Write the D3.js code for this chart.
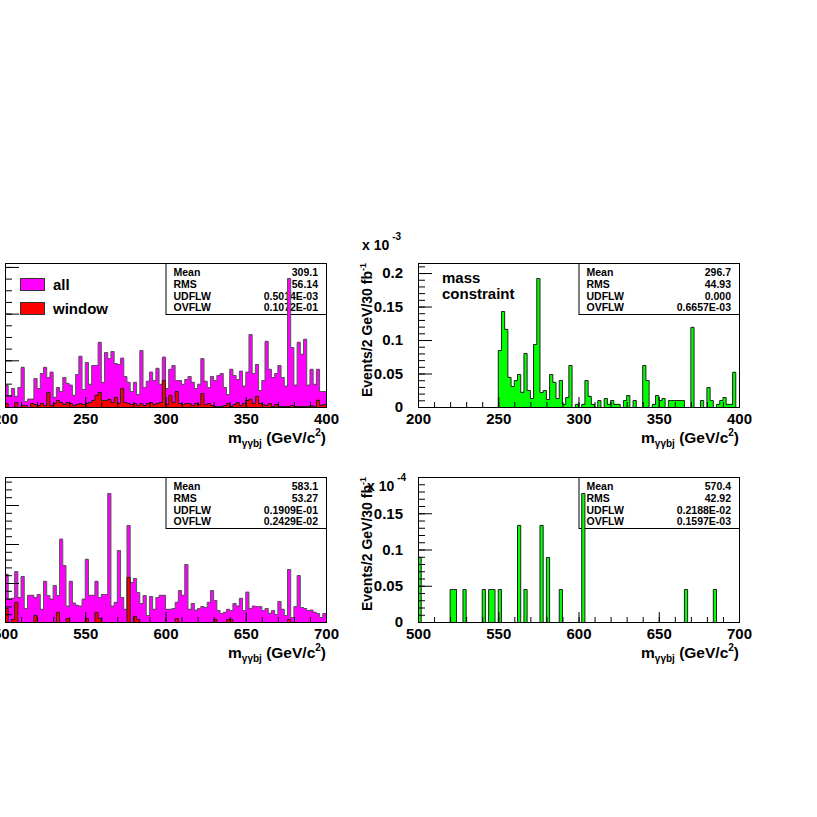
<!DOCTYPE html>
<html>
<head>
<meta charset="utf-8">
<script src="https://cdn.jsdelivr.net/npm/d3@7"></script>
<style>
  body { margin: 0; background: #fff; }
  svg { display: block; }
</style>
</head>
<body>
<svg id="chart" width="817" height="817"></svg>
<script>
// ---- data (2 GeV bins, 100 per histogram) ----
var nBins = 100;
var rangeTop = [200, 400];
var rangeBottom = [500, 700];
var xTicksTop = [200, 250, 300, 350, 400];
var xTicksBottom = [500, 550, 600, 650, 700];
var yTicksLeft = [0, 0.5, 1, 1.5];
var yTicksTopRight = [0, 0.05, 0.1, 0.15, 0.2];
var yTicksBottomRight = [0, 0.05, 0.1, 0.15];

// top left, "all" and "window" (units of the hidden left axis)
var allTop = [0.24,0.12,0.2,0.12,0.21,0.43,0.06,0.09,0.09,0.31,
  0.2,0.36,0.43,0.32,0.38,0.11,0.21,0.17,0.32,0.26,
  0.24,0.13,0.35,0.55,0.19,0.48,0.25,0.45,0.45,0.7,
  0.27,0.59,0.52,0.6,0.47,0.46,0.53,0.33,0.27,0.17,
  0.27,0.14,0.61,0.21,0.28,0.38,0.29,0.42,0.25,0.54,
  0.2,0.41,0.45,0.29,0.29,0.25,0.3,0.33,0.27,0.2,
  0.25,0.52,0.28,0.21,0.33,0.29,0.34,0.36,0.21,0.14,
  0.41,0.34,0.3,0.39,0.23,0.38,0.78,0.36,0.46,0.18,
  0.29,0.71,0.41,0.32,0.36,0.45,0.32,0.23,1.38,0.64,
  0.24,0.7,0.57,0.73,0.24,0.41,0.25,0.41,0.17,0.17];
var windowTop = [0.04,0,0,0.05,0,0.02,0.02,0,0.04,0.03,
  0.02,0.04,0.02,0.16,0.02,0.04,0.07,0.05,0.03,0.05,
  0.04,0.02,0.03,0.04,0.03,0.04,0.05,0.07,0.13,0.16,
  0.07,0.07,0.09,0.05,0.11,0.04,0.2,0.05,0.04,0.03,
  0.04,0.02,0.04,0.02,0.04,0.05,0.03,0.04,0.05,0.29,
  0.03,0.13,0.05,0.17,0.04,0.03,0.04,0.04,0.02,0.04,
  0.03,0.15,0.03,0.04,0.02,0.01,0.01,0.01,0.02,0.04,
  0.01,0.03,0.05,0.02,0.04,0.07,0.09,0.04,0.12,0.04,
  0.03,0.02,0.04,0.01,0.03,0.01,0.01,0.01,0.01,0.02,
  0.01,0.01,0.01,0.01,0.01,0.02,0.01,0.08,0.02,0.03];

// bottom left, "all" and "window"
var allBottom = [0.62,0.3,0.31,0.65,0.32,0.59,0.18,0.35,0.35,0.32,
  0.36,0.17,0.53,0.34,0.3,0.47,0.34,1.07,0.73,0.21,
  0.53,0.25,0.22,0.21,0.3,0.81,0.35,0.35,0.53,0.32,
  0.36,0.36,1.65,0.21,0.26,0.92,0.32,0.17,1.24,0.51,
  0.56,0.38,0.24,0.34,0.09,0.33,0.17,0.32,0.35,0.35,
  0.17,0.17,0.18,0.26,0.41,0.35,0.74,0.17,0.24,0.16,
  0.18,0.2,0.19,0.26,0.41,0.28,0.15,0.11,0.13,0.17,
  0.15,0.24,0.21,0.31,0.15,0.39,0.18,0.21,0.2,0.2,
  0.15,0.18,0.12,0.15,0.1,0.27,0.17,0.09,0.68,0.06,
  0.2,0.6,0.19,0.18,0.15,0.16,0.13,0.11,0.06,0.11];
var windowBottom = [0.18,0,0.04,0.26,0,0,0,0,0,0.09,
  0,0,0,0,0,0,0.13,0,0,0.05,
  0,0,0,0,0,0.05,0,0,0.13,0.05,
  0,0,0,0,0,0,0,0,0.58,0,
  0.08,0.04,0,0,0,0,0,0,0,0,
  0,0,0,0.05,0,0,0,0,0,0,
  0,0,0,0,0,0.04,0,0,0,0.04,
  0.04,0,0,0,0,0,0,0,0,0,
  0,0,0,0,0,0,0,0,0.04,0,
  0,0,0,0,0,0,0,0,0,0];

// right column, with mass constraint (x 10^-3 top, x 10^-4 bottom)
var constrTop = [0,0,0,0,0,0,0,0,0,0,
  0,0,0,0,0,0,0,0,0,0,
  0,0,0,0,0,0.085,0.143,0.117,0.045,0.031,
  0.04,0.049,0.023,0.08,0.025,0.013,0.094,0.192,0.022,0.025,
  0.012,0.049,0.038,0.013,0.04,0.005,0.015,0.062,0,0.005,
  0,0.005,0.04,0.017,0.005,0,0.01,0,0.013,0.005,
  0.01,0.005,0.005,0,0.01,0.018,0,0.01,0,0,
  0.062,0.04,0,0.005,0.018,0.01,0.013,0,0.01,0.01,
  0.01,0.01,0.01,0,0,0.12,0,0,0.01,0,
  0.03,0.01,0,0.005,0.01,0.015,0.005,0.005,0.053,0];
var constrBottom = [0.089,0,0,0,0,0,0,0,0,0,
  0.045,0.045,0,0,0.045,0,0,0,0,0,
  0.045,0,0.045,0.045,0,0.045,0,0,0,0,
  0,0.134,0,0.045,0,0,0,0,0.134,0,
  0.089,0,0,0,0.045,0,0,0,0,0,
  0,0.178,0,0,0,0,0,0,0,0,
  0,0,0,0,0,0,0,0,0,0,
  0,0,0,0,0,0,0,0,0,0,
  0,0,0,0.045,0,0,0,0,0,0,
  0,0,0.045,0,0,0,0,0,0,0];

var statNames = ["Mean", "RMS", "UDFLW", "OVFLW"];
var statsTopLeft = ["309.1", "56.14", "0.5014E-03", "0.1072E-01"];
var statsTopRight = ["296.7", "44.93", "0.000", "0.6657E-03"];
var statsBottomLeft = ["583.1", "53.27", "0.1909E-01", "0.2429E-02"];
var statsBottomRight = ["570.4", "42.92", "0.2188E-02", "0.1597E-03"];
var legendLabels = ["all", "window"];
var noteLines = ["mass", "constraint"];

// ---- drawing ----
var FONT = "'Liberation Sans', Arial, Helvetica, sans-serif";
var MAGENTA = "#ff00ff", RED = "#ff0000", GREEN = "#00ff00";

var svg = d3.select("#chart")
    .attr("font-family", FONT)
    .attr("font-weight", "bold");

function drawPanel(p) {
  var W = 321, H = p.height;
  var g = svg.append("g").attr("transform", "translate(" + p.left + "," + p.top + ")");

  var x = d3.scaleLinear().domain(p.xRange).range([0, W]);
  var y = d3.scaleLinear().domain([0, p.yMax]).range([H, 0]);
  var bw = (p.xRange[1] - p.xRange[0]) / nBins;

  var clipId = "clip" + p.left + "_" + p.top;
  g.append("clipPath").attr("id", clipId)
    .append("rect").attr("width", W).attr("height", H);

  // stats box sits under the histograms (spikes cross it)
  var box = g.append("g").attr("transform", "translate(" + (W / 2) + ",0)");
  box.append("rect")
      .attr("x", 0.5).attr("y", 0.5)
      .attr("width", W / 2).attr("height", 51)
      .attr("fill", "#fff").attr("stroke", "#000");
  statNames.forEach(function(name, k) {
    var yy = 13 + k * 11.8;
    box.append("text").attr("x", 8).attr("y", yy)
        .attr("font-size", 10.5).text(name);
    box.append("text").attr("x", W / 2 - 8).attr("y", yy)
        .attr("font-size", 10.5).attr("text-anchor", "end").text(p.stats[k]);
  });

  var hg = g.append("g").attr("clip-path", "url(#" + clipId + ")");
  p.hists.forEach(function(h) {
    var pts = [];
    h.values.forEach(function(v, i) {
      var lo = p.xRange[0] + i * bw;
      pts.push([lo, v]);
      pts.push([lo + bw, v]);
    });
    hg.append("path")
        .attr("d", d3.area()
          .x(function(d) { return x(d[0]); })
          .y0(y(0))
          .y1(function(d) { return y(d[1]); })(pts))
        .attr("fill", h.fill);
    hg.append("path")
        .attr("d", d3.line()
          .x(function(d) { return x(d[0]); })
          .y(function(d) { return Math.round(y(d[1])) + 0.5; })(pts))
        .attr("fill", "none")
        .attr("stroke", h.stroke)
        .attr("stroke-width", 1);
  });

  // minor ticks first, majors on top
  g.append("g").attr("transform", "translate(0," + H + ")")
      .call(d3.axisBottom(x).tickValues(d3.range(p.xRange[0], p.xRange[1] + 1e-6, 10))
        .tickSize(-5).tickSizeOuter(0).tickFormat(""))
      .call(function(a) { a.select(".domain").remove(); });
  var xa = g.append("g").attr("transform", "translate(0," + H + ")")
      .call(d3.axisBottom(x).tickValues(p.xTicks).tickSize(-10).tickSizeOuter(0).tickPadding(6))
      .call(function(a) { a.select(".domain").remove(); });
  xa.attr("font-family", FONT).attr("font-size", 15);

  g.append("g")
      .call(d3.axisLeft(y).tickValues(d3.range(0, p.yMax, p.yMinor))
        .tickSize(-7).tickSizeOuter(0).tickFormat(""))
      .call(function(a) { a.select(".domain").remove(); });
  // left column's labels sit outside the window in the reference: ticks only
  var ya = g.append("g")
      .call(d3.axisLeft(y).tickValues(p.yTicks).tickSize(-14).tickSizeOuter(0).tickPadding(15)
        .tickFormat(p.yLabels ? function(d) { return d === 0 ? "0" : String(d); } : ""))
      .call(function(a) { a.select(".domain").remove(); });
  ya.attr("font-family", FONT).attr("font-size", 15);

  g.append("rect")
      .attr("x", 0.5).attr("y", 0.5)
      .attr("width", W).attr("height", H)
      .attr("fill", "none").attr("stroke", "#000");

  // x title
  var xt = g.append("text")
      .attr("x", W).attr("y", H + 36)
      .attr("text-anchor", "end").attr("font-size", 15.5);
  xt.append("tspan").text("m");
  xt.append("tspan").attr("font-size", 10).attr("dy", 4).text("\u03b3\u03b3bj");
  xt.append("tspan").attr("dy", -4).text(" (GeV/c");
  xt.append("tspan").attr("font-size", 10).attr("dy", -7).text("2");
  xt.append("tspan").attr("dy", 7).text(")");

  if (p.yLabels) {
    var yt = g.append("text")
        .attr("transform", "translate(-46,0) rotate(-90)")
        .attr("text-anchor", "end").attr("font-size", 14);
    yt.append("tspan").text("Events/2 GeV/30 fb");
    yt.append("tspan").attr("font-size", 9).attr("dy", -6).text("-1");
  }

  if (p.exp) {
    var et = svg.append("text")
        .attr("x", p.exp.x).attr("y", p.exp.y).attr("font-size", 14);
    et.append("tspan").text("x 10");
    et.append("tspan").attr("font-size", 10).attr("dx", 3).attr("dy", -10).text(p.exp.power);
  }

  if (p.legend) {
    var colors = [MAGENTA, RED];
    legendLabels.forEach(function(lbl, k) {
      g.append("rect")
          .attr("x", 15.5).attr("y", 15.5 + k * 24)
          .attr("width", 24).attr("height", 12)
          .attr("fill", colors[k]).attr("stroke", "#333");
      g.append("text")
          .attr("x", 48).attr("y", 27 + k * 23.5)
          .attr("font-size", 15).text(lbl);
    });
  }

  if (p.note) {
    noteLines.forEach(function(t, k) {
      g.append("text")
          .attr("x", 24).attr("y", 20 + k * 16)
          .attr("font-size", 15).text(t);
    });
  }
}

var panels = [
  { left: 5, top: 263, height: 144, xRange: rangeTop, xTicks: xTicksTop,
    yMax: 1.542, yTicks: yTicksLeft, yMinor: 0.125, stats: statsTopLeft, legend: true,
    hists: [{ values: allTop, fill: MAGENTA, stroke: "#555" },
            { values: windowTop, fill: RED, stroke: "#222" }] },
  { left: 418, top: 263, height: 144, xRange: rangeTop, xTicks: xTicksTop, yLabels: true,
    yMax: 0.215, yTicks: yTicksTopRight, yMinor: 0.01, stats: statsTopRight, note: true,
    exp: { x: 362, y: 250, power: "-3" },
    hists: [{ values: constrTop, fill: GREEN, stroke: "#222" }] },
  { left: 5, top: 477, height: 145, xRange: rangeBottom, xTicks: xTicksBottom,
    yMax: 1.859, yTicks: yTicksLeft, yMinor: 0.1, stats: statsBottomLeft,
    hists: [{ values: allBottom, fill: MAGENTA, stroke: "#555" },
            { values: windowBottom, fill: RED, stroke: "#222" }] },
  { left: 418, top: 477, height: 145, xRange: rangeBottom, xTicks: xTicksBottom, yLabels: true,
    yMax: 0.2, yTicks: yTicksBottomRight, yMinor: 0.01, stats: statsBottomRight,
    exp: { x: 367, y: 491, power: "-4" },
    hists: [{ values: constrBottom, fill: GREEN, stroke: "#222" }] }
];

panels.forEach(drawPanel);
</script>
</body>
</html>
